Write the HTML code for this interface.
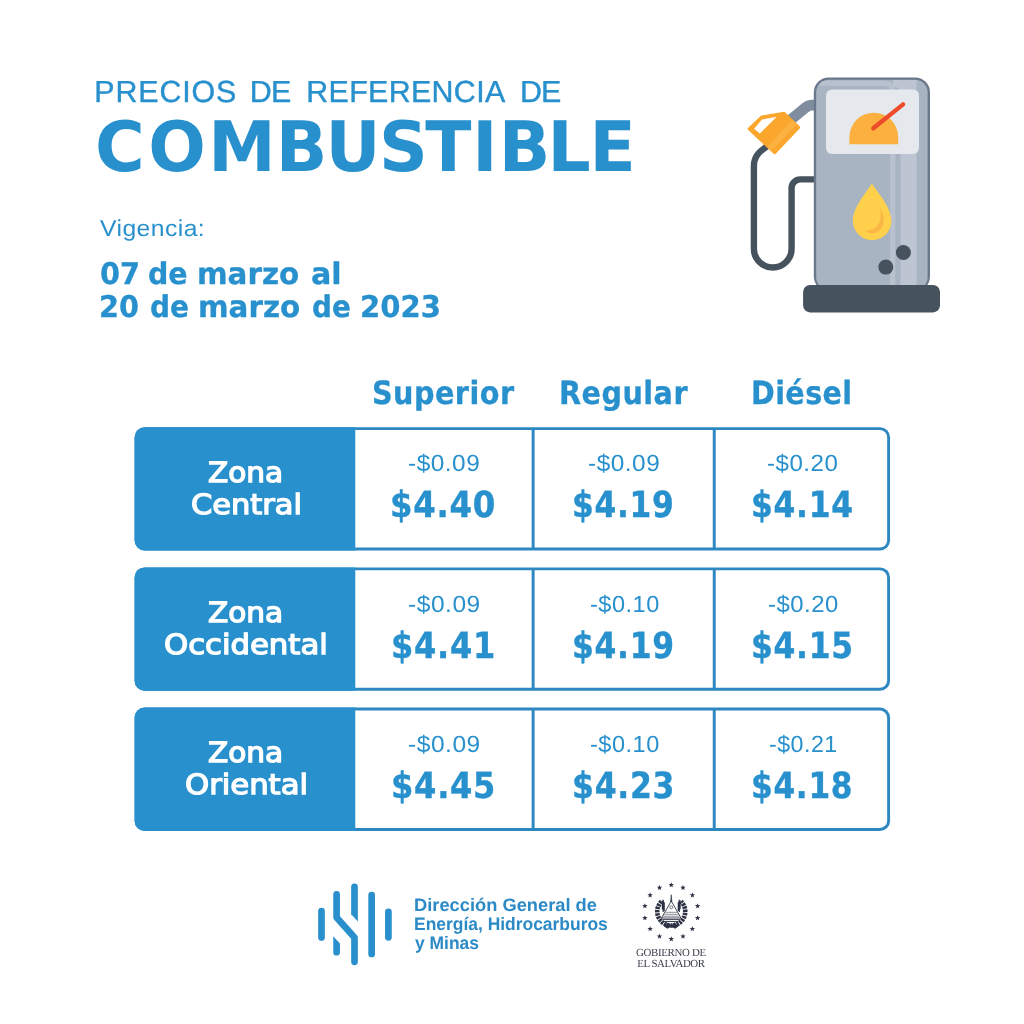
<!DOCTYPE html>
<html lang="es">
<head>
<meta charset="utf-8">
<title>Precios de referencia de combustible</title>
<style>
html,body{margin:0;padding:0;background:#fff;}
body{width:1024px;height:1024px;position:relative;overflow:hidden;font-family:"Liberation Sans",sans-serif;color:#2790cd;text-rendering:geometricPrecision;}
.full{position:absolute;left:0;top:0;}
.ln{position:absolute;left:0;width:0;height:0;white-space:nowrap;line-height:1;}
.ln span{position:absolute;top:0;transform-origin:0 0;}
#h1{top:77px;font-family:"Liberation Sans",sans-serif;font-size:30.4px;-webkit-text-stroke:0.4px #2790cd;}
#vig{top:217px;font-family:"Liberation Sans",sans-serif;font-size:23.0px;}
#d1{top:260px;font-family:"DejaVu Sans","Liberation Sans",sans-serif;font-size:29.9px;font-weight:700;-webkit-text-stroke:0.3px #2790cd;}
#d2{top:293px;font-family:"DejaVu Sans","Liberation Sans",sans-serif;font-size:29.9px;font-weight:700;-webkit-text-stroke:0.3px #2790cd;}
.ch{top:377px;font-family:"DejaVu Sans","Liberation Sans",sans-serif;font-size:32.1px;font-weight:700;-webkit-text-stroke:0.3px #2790cd;}
.zn{color:#fff;font-family:"DejaVu Sans","Liberation Sans",sans-serif;font-size:27.9px;font-weight:400;-webkit-text-stroke:1.3px #fff;}
.sd{font-family:"Liberation Sans",sans-serif;font-size:23.4px;}
.pr{font-family:"DejaVu Sans","Liberation Sans",sans-serif;font-size:36.2px;font-weight:700;-webkit-text-stroke:0.4px #2790cd;}
.dg{color:#2b8ac6;font-family:"Liberation Sans",sans-serif;font-size:18px;font-weight:700;}
.gv{color:#3b3e49;font-family:"Liberation Serif",serif;font-size:10.9px;}
</style>
</head>
<body>
<div class="ln" id="h1"><span style="left:94.35px;letter-spacing:0.858px;">PRECIOS</span> <span style="left:249.75px;letter-spacing:-0.65px;">DE</span> <span style="left:306.25px;letter-spacing:0.339px;">REFERENCIA</span> <span style="left:520.05px;letter-spacing:-1.05px;">DE</span></div>
<svg class="full" width="1024" height="1024" viewBox="0 0 1024 1024"><text id="h2" transform="scale(0.975,1)" x="97.52 151.94 213.63 282.75 333.80 388.64 436.17 484.38 511.67 561.45 604.73" y="171" font-family="DejaVu Sans, Liberation Sans, sans-serif" font-weight="700" font-size="69.5" fill="#2790cd">COMBUSTIBLE</text></svg>
<div class="ln" id="vig"><span style="left:100.35px;letter-spacing:0.4px;transform:scaleX(1.0747);">Vigencia:</span></div>
<div class="ln" id="d1"><span style="left:99.85px;transform:scaleX(0.9621);">07</span> <span style="left:148.35px;transform:scaleX(0.9513);">de</span> <span style="left:197.35px;transform:scaleX(0.9831);">marzo</span> <span style="left:310.65px;transform:scaleX(1.0093);">al</span></div>
<div class="ln" id="d2"><span style="left:99.40px;transform:scaleX(0.9605);">20</span> <span style="left:149.80px;transform:scaleX(0.9359);">de</span> <span style="left:198.15px;transform:scaleX(0.9831);">marzo</span> <span style="left:311.80px;transform:scaleX(0.9308);">de</span> <span style="left:359.65px;transform:scaleX(0.9727);">2023</span></div>
<div class="ln ch"><span style="left:371.80px;letter-spacing:0.5px;transform:scaleX(0.8944);">Superior</span></div>
<div class="ln ch"><span style="left:558.95px;letter-spacing:0.5px;transform:scaleX(0.8947);">Regular</span></div>
<div class="ln ch"><span style="left:750.80px;letter-spacing:0.5px;transform:scaleX(0.8894);">Diésel</span></div>
<svg class="full" width="1024" height="1024" viewBox="0 0 1024 1024">
<rect x="134.6" y="427.20" width="755.45" height="123.3" rx="10" fill="#2d88c1"/>
<rect x="347.3" y="430.10" width="539.85" height="117.50" rx="7.3" fill="#fff"/>
<path d="M144.6 427.20 L355.3 427.20 L355.3 550.50 L144.6 550.50 A10 10 0 0 1 134.6 540.50 L134.6 437.20 A10 10 0 0 1 144.6 427.20 Z" fill="#2790cd"/>
<rect x="531.65" y="428.20" width="2.95" height="121.3" fill="#2d88c1"/>
<rect x="712.75" y="428.20" width="2.95" height="121.3" fill="#2d88c1"/>
<rect x="134.6" y="567.40" width="755.45" height="123.3" rx="10" fill="#2d88c1"/>
<rect x="347.3" y="570.30" width="539.85" height="117.50" rx="7.3" fill="#fff"/>
<path d="M144.6 567.40 L355.3 567.40 L355.3 690.70 L144.6 690.70 A10 10 0 0 1 134.6 680.70 L134.6 577.40 A10 10 0 0 1 144.6 567.40 Z" fill="#2790cd"/>
<rect x="531.65" y="568.40" width="2.95" height="121.3" fill="#2d88c1"/>
<rect x="712.75" y="568.40" width="2.95" height="121.3" fill="#2d88c1"/>
<rect x="134.6" y="707.60" width="755.45" height="123.3" rx="10" fill="#2d88c1"/>
<rect x="347.3" y="710.50" width="539.85" height="117.50" rx="7.3" fill="#fff"/>
<path d="M144.6 707.60 L355.3 707.60 L355.3 830.90 L144.6 830.90 A10 10 0 0 1 134.6 820.90 L134.6 717.60 A10 10 0 0 1 144.6 707.60 Z" fill="#2790cd"/>
<rect x="531.65" y="708.60" width="2.95" height="121.3" fill="#2d88c1"/>
<rect x="712.75" y="708.60" width="2.95" height="121.3" fill="#2d88c1"/>
</svg>
<div class="ln zn" style="top:459px"><span style="left:208.00px;transform:scaleX(1.0591);">Zona</span></div>
<div class="ln zn" style="top:491px"><span style="left:190.90px;transform:scaleX(1.0914);">Central</span></div>
<div class="ln zn" style="top:599px"><span style="left:208.00px;transform:scaleX(1.0591);">Zona</span></div>
<div class="ln zn" style="top:631px"><span style="left:164.40px;transform:scaleX(1.1012);">Occidental</span></div>
<div class="ln zn" style="top:739px"><span style="left:208.00px;transform:scaleX(1.0591);">Zona</span></div>
<div class="ln zn" style="top:771px"><span style="left:184.60px;transform:scaleX(1.1002);">Oriental</span></div>
<div class="ln sd" style="top:452px"><span style="left:407.95px;letter-spacing:0.5px;transform:scaleX(1.0427)">-$0.09</span></div>
<div class="ln pr" style="top:487px"><span style="left:390.20px;letter-spacing:0.8px;transform:scaleX(0.8945)">$4.40</span></div>
<div class="ln sd" style="top:452px"><span style="left:587.95px;letter-spacing:0.5px;transform:scaleX(1.0427)">-$0.09</span></div>
<div class="ln pr" style="top:487px"><span style="left:572.35px;letter-spacing:0.8px;transform:scaleX(0.8646)">$4.19</span></div>
<div class="ln sd" style="top:452px"><span style="left:767.20px;letter-spacing:0.5px;transform:scaleX(1.0299)">-$0.20</span></div>
<div class="ln pr" style="top:487px"><span style="left:750.70px;letter-spacing:0.8px;transform:scaleX(0.8668)">$4.14</span></div>
<div class="ln sd" style="top:593px"><span style="left:407.70px;letter-spacing:0.5px;transform:scaleX(1.0502)">-$0.09</span></div>
<div class="ln pr" style="top:628px"><span style="left:391.45px;letter-spacing:0.8px;transform:scaleX(0.8858)">$4.41</span></div>
<div class="ln sd" style="top:593px"><span style="left:589.80px;letter-spacing:0.5px;transform:scaleX(1.006)">-$0.10</span></div>
<div class="ln pr" style="top:628px"><span style="left:572.05px;letter-spacing:0.8px;transform:scaleX(0.8673)">$4.19</span></div>
<div class="ln sd" style="top:593px"><span style="left:767.95px;letter-spacing:0.5px;transform:scaleX(1.0201)">-$0.20</span></div>
<div class="ln pr" style="top:628px"><span style="left:751.05px;letter-spacing:0.8px;transform:scaleX(0.867)">$4.15</span></div>
<div class="ln sd" style="top:733px"><span style="left:407.70px;letter-spacing:0.5px;transform:scaleX(1.0502)">-$0.09</span></div>
<div class="ln pr" style="top:768px"><span style="left:391.45px;letter-spacing:0.8px;transform:scaleX(0.8878)">$4.45</span></div>
<div class="ln sd" style="top:733px"><span style="left:589.80px;letter-spacing:0.5px;transform:scaleX(1.006)">-$0.10</span></div>
<div class="ln pr" style="top:768px"><span style="left:572.05px;letter-spacing:0.8px;transform:scaleX(0.8711)">$4.23</span></div>
<div class="ln sd" style="top:733px"><span style="left:769.20px;letter-spacing:0.5px;transform:scaleX(0.9918)">-$0.21</span></div>
<div class="ln pr" style="top:768px"><span style="left:751.05px;letter-spacing:0.8px;transform:scaleX(0.8631)">$4.18</span></div>
<svg class="full" width="1024" height="1024" viewBox="0 0 1024 1024">
<defs><clipPath id="bodyclip"><rect x="816.2" y="79.8" width="111.4" height="210" rx="12.5"/></clipPath></defs>
<!-- hose -->
<path d="M768 145.5 C760 151,753.9 156,753.9 166 L753.9 248.7 A18.85 18.85 0 0 0 791.6 248.7 L791.6 188 A8.6 8.6 0 0 1 800.2 179.4 L817 179.4" fill="none" stroke="#47525f" stroke-width="6.4" stroke-linecap="round"/>
<!-- spout -->
<path d="M788.2 121.8 L804.5 108.4 Q808.4 105.2 812 105.2 L817 105.2" fill="none" stroke="#808d9f" stroke-width="10.7" stroke-linejoin="round"/>
<!-- nozzle -->
<path d="M749.2 128.8 L761.7 117 L784.1 113.2 L798.6 127.4 L774.6 152.7 Z" fill="#fba62d" stroke="#fba62d" stroke-width="3" stroke-linejoin="round"/>
<path d="M796.6 124.6 L771.4 151.0 L767.2 147.0 L792.3 119.8 Z" fill="#fdbb55" opacity="0.5"/>
<path d="M754.4 128.7 L762.2 119.7 L776 117.2 L759.9 133.2 Z" fill="#fff" stroke="#fff" stroke-width="0.6" stroke-linejoin="round"/>
<!-- body -->
<rect x="813.8" y="77.4" width="116.2" height="214" rx="15" fill="#6a788c"/>
<rect x="816.2" y="79.8" width="111.4" height="210" rx="12.5" fill="#a9b4c2"/>
<g clip-path="url(#bodyclip)">
<path d="M816 83.2 L884 83.2 Q892.75 83.2 892.75 92 L892.75 290" fill="none" stroke="#b8c1cd" stroke-width="5.1"/>
<path d="M900.5 290 L900.5 94 Q900.5 86.5 893 86.5 L893 80 L916.6 80 L916.6 290 Z" fill="#bcc5d1"/>
</g>
<!-- panel -->
<rect x="826" y="89.5" width="93" height="64.5" rx="6" fill="#e5e8ed"/>
<path d="M849.4 144.2 L849.4 137 A24.4 24.4 0 0 1 898.2 137 L898.2 144.2 Z" fill="#fbb03f"/>
<line x1="873.3" y1="128.3" x2="903.1" y2="104.4" stroke="#ee4a2c" stroke-width="4.3" stroke-linecap="round"/>
<!-- drop -->
<path d="M871.9 183.5 C876.5 191,891.4 207,891.4 221 A19.25 19.25 0 0 1 852.9 221 C852.9 207,867.5 191,871.9 183.5 Z" fill="#ffd04b"/>
<path d="M880 208 C885.5 216,885 226,879 231 C874.5 234.5,868.5 233.5,865.3 230.2 C871 231,877 228,879.5 222 C881.2 217.5,881 212.5,880 208 Z" fill="#fbb745"/>
<!-- dots -->
<circle cx="903.4" cy="252.5" r="7.5" fill="#47525f"/>
<circle cx="885.8" cy="267.1" r="7.5" fill="#47525f"/>
<!-- base -->
<rect x="803.1" y="285" width="136.9" height="27.4" rx="7" fill="#47525f"/>
</svg>
<svg class="full" width="1024" height="1024" viewBox="0 0 1024 1024">
<g fill="none" stroke="#2a8fcd" stroke-width="6.7" stroke-linecap="round" stroke-linejoin="round">
<line x1="321.5" y1="911.1" x2="321.5" y2="937.5"/>
<path d="M336.6 894.3 L336.6 917.5 L354.5 937.5 L354.5 961.8"/>
<line x1="371.65" y1="895.1" x2="371.65" y2="953.9"/>
<line x1="388.4" y1="911.8" x2="388.4" y2="937.3"/>
</g>
<g fill="#2a8fcd">
<path d="M351.15 886.9 A3.35 3.35 0 0 1 357.85 886.9 L357.85 921.6 L351.15 914.2 Z"/>
<path d="M333.25 936.2 L339.95 943.6 L339.95 952.2 A3.35 3.35 0 0 1 333.25 952.2 Z"/>
</g>
<g fill="#2c3244">
<polygon points="671.25,882.17 671.96,884.05 673.96,884.14 672.39,885.39 672.93,887.33 671.25,886.22 669.57,887.33 670.11,885.39 668.54,884.14 670.54,884.05"/>
<polygon points="682.98,884.85 683.68,886.73 685.69,886.82 684.12,888.07 684.65,890.00 682.98,888.90 681.30,890.00 681.84,888.07 680.27,886.82 682.27,886.73"/>
<polygon points="692.38,892.35 693.09,894.23 695.09,894.32 693.52,895.57 694.06,897.50 692.38,896.40 690.71,897.50 691.24,895.57 689.67,894.32 691.68,894.23"/>
<polygon points="697.60,903.19 698.31,905.06 700.31,905.15 698.74,906.41 699.28,908.34 697.60,907.24 695.93,908.34 696.46,906.41 694.89,905.15 696.90,905.06"/>
<polygon points="697.60,915.21 698.31,917.09 700.31,917.18 698.74,918.44 699.28,920.37 697.60,919.26 695.93,920.37 696.46,918.44 694.89,917.18 696.90,917.09"/>
<polygon points="692.38,926.05 693.09,927.93 695.09,928.02 693.52,929.27 694.06,931.21 692.38,930.10 690.71,931.21 691.24,929.27 689.67,928.02 691.68,927.93"/>
<polygon points="682.98,933.55 683.68,935.43 685.69,935.52 684.12,936.77 684.65,938.71 682.98,937.60 681.30,938.71 681.84,936.77 680.27,935.52 682.27,935.43"/>
<polygon points="671.25,936.23 671.96,938.11 673.96,938.20 672.39,939.45 672.93,941.39 671.25,940.28 669.57,941.39 670.11,939.45 668.54,938.20 670.54,938.11"/>
<polygon points="659.52,933.55 660.23,935.43 662.23,935.52 660.66,936.77 661.20,938.71 659.52,937.60 657.85,938.71 658.38,936.77 656.81,935.52 658.82,935.43"/>
<polygon points="650.12,926.05 650.82,927.93 652.83,928.02 651.26,929.27 651.79,931.21 650.12,930.10 648.44,931.21 648.98,929.27 647.41,928.02 649.41,927.93"/>
<polygon points="644.90,915.21 645.60,917.09 647.61,917.18 646.04,918.44 646.57,920.37 644.90,919.26 643.22,920.37 643.76,918.44 642.19,917.18 644.19,917.09"/>
<polygon points="644.90,903.19 645.60,905.06 647.61,905.15 646.04,906.41 646.57,908.34 644.90,907.24 643.22,908.34 643.76,906.41 642.19,905.15 644.19,905.06"/>
<polygon points="650.12,892.35 650.82,894.23 652.83,894.32 651.26,895.57 651.79,897.50 650.12,896.40 648.44,897.50 648.98,895.57 647.41,894.32 649.41,894.23"/>
<polygon points="659.52,884.85 660.23,886.73 662.23,886.82 660.66,888.07 661.20,890.00 659.52,888.90 657.85,890.00 658.38,888.07 656.81,886.82 658.82,886.73"/>
</g>
<!-- emblem -->
<g>
<path d="M661.5 901.5 A14 14 0 1 0 681 901.5" fill="none" stroke="#2c3244" stroke-width="4.6" stroke-dasharray="2.4 0.8"/>
<path d="M661.8 900 L664.8 902.5 L664.8 911.5 L661.8 909 Z M680.7 900 L677.7 902.5 L677.7 911.5 L680.7 909 Z" fill="#2c3244"/>
<path d="M663.2 899.8 L663.2 912 M679.3 899.8 L679.3 912" stroke="#2c3244" stroke-width="1.2"/>
<path d="M671.25 901 L681 918 L661.5 918 Z" fill="#fff" stroke="#2c3244" stroke-width="0.9" stroke-linejoin="round"/>
<path d="M670.6 901.5 L671.25 894.7 L671.9 901.5 Z" fill="#2c3244" stroke="#2c3244" stroke-width="0.6"/>
<circle cx="671.25" cy="907.3" r="1.5" fill="none" stroke="#2c3244" stroke-width="0.6"/>
<path d="M665.5 912.3 L677 912.3 M664.3 914.3 L678.2 914.3 M663.2 916.2 L679.3 916.2" stroke="#2c3244" stroke-width="0.55"/>
<path d="M662.5 919.6 L680 919.6 M664 921.5 L678.5 921.5" stroke="#2c3244" stroke-width="0.9"/>
<path d="M664 926.5 L668 922.5 L671.25 925.5 L674.5 922.5 L678.5 926.5 L675 928.8 L671.25 926.5 L667.5 928.8 Z" fill="#2c3244"/>
</g>
</svg>
<div class="ln dg" style="top:896px"><span style="left:414.25px;transform:scaleX(1.016)">Dirección General de</span></div>
<div class="ln dg" style="top:915px"><span style="left:414.25px;transform:scaleX(0.9687)">Energía, Hidrocarburos</span></div>
<div class="ln dg" style="top:934px"><span style="left:415.25px;transform:scaleX(0.9677)">y Minas</span></div>
<div class="ln gv" style="top:948px"><span style="left:635.90px;letter-spacing:-0.32px">GOBIERNO DE</span></div>
<div class="ln gv" style="top:959px"><span style="left:637.35px;letter-spacing:-0.485px">EL SALVADOR</span></div>
</body>
</html>
